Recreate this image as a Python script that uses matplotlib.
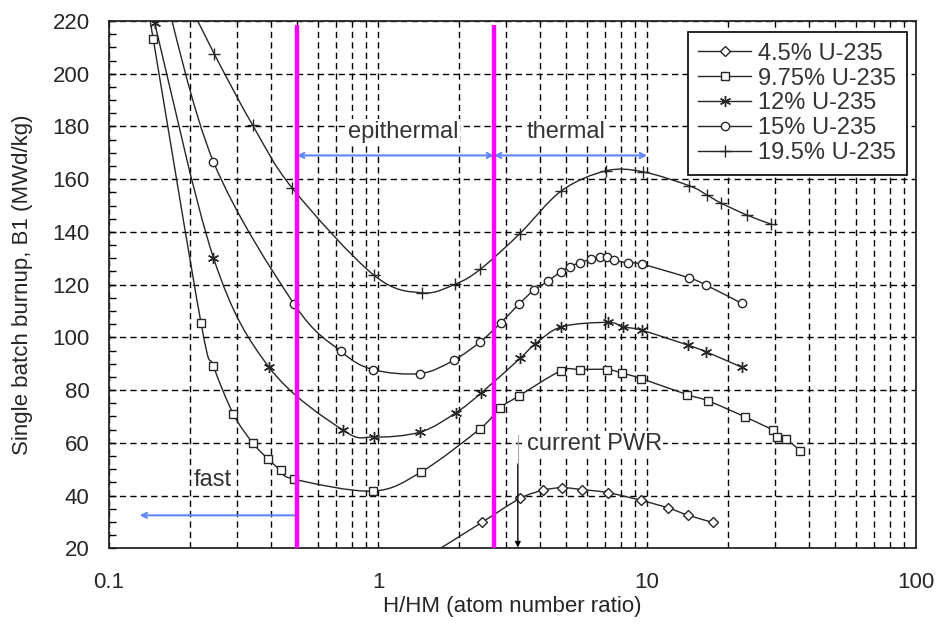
import numpy as np
import matplotlib
matplotlib.use('Agg')
import matplotlib.pyplot as plt
from matplotlib.path import Path
from matplotlib.patches import PathPatch
from matplotlib.lines import Line2D
from matplotlib.ticker import MultipleLocator, LogLocator, NullFormatter, FuncFormatter

plt.rcParams['font.family'] = ['Liberation Sans', 'DejaVu Sans']

# data (points past the frame are where the curves leave it)
x45 = [1.55, 2.43, 3.37, 4.11, 4.83, 5.71, 7.16, 9.5, 12.0, 14.25, 17.6]
y45 = [17.3, 29.8, 38.9, 42.0, 43.0, 42.3, 41.1, 38.2, 35.3, 32.5, 29.8]

x975 = [0.13, 0.146, 0.220, 0.2445, 0.290, 0.342, 0.391, 0.435, 0.488, 0.957, 1.449,
        2.398, 2.84, 3.33, 4.78, 5.62, 7.1, 8.06, 9.5, 14.1, 16.9, 23.2, 29.3, 30.5, 32.9, 37.2]
y975 = [243, 213.2, 105.3, 89.1, 70.9, 60.0, 53.8, 49.6, 46.2, 41.7, 49.0,
        65.4, 73.2, 77.7, 87.3, 87.8, 87.8, 86.5, 84.4, 78.3, 75.9, 69.8, 64.8, 62.2, 61.3, 57.0]

x12 = [0.13, 0.148, 0.2445, 0.394, 0.741, 0.965, 1.437, 1.948, 2.417, 3.37, 3.83, 4.81,
       7.16, 8.13, 9.57, 14.25, 16.6, 22.6]
y12 = [244, 219.1, 130.2, 88.6, 64.8, 62.2, 64.1, 71.4, 78.9, 92.0, 97.4, 104.0,
       105.7, 104.0, 102.7, 97.0, 94.5, 88.6]

x15 = [0.16, 0.2445, 0.488, 0.726, 0.957, 1.437, 1.909, 2.398, 2.86, 3.34, 3.80, 4.28, 4.78,
       5.16, 5.62, 6.18, 6.67, 7.08, 7.51, 8.47, 9.55, 14.3, 16.6, 22.5]
y15 = [232, 166.6, 112.6, 94.8, 87.8, 86.3, 91.3, 98.3, 105.5, 112.6, 117.9, 121.3, 124.9,
       126.8, 128.3, 129.6, 130.3, 130.5, 129.3, 128.3, 127.8, 122.6, 119.8, 112.9]

x195 = [0.196, 0.2465, 0.342, 0.481, 0.965, 1.458, 1.936, 2.398, 3.37, 4.81, 7.06, 9.65,
        14.37, 16.7, 18.8, 23.5, 28.8]
y195 = [228, 207.4, 180.5, 156.5, 123.6, 116.9, 120.2, 125.8, 139.4, 155.6, 163.2, 162.8,
        157.5, 154.0, 151.0, 146.4, 143.0]

labels = ['4.5% U-235', '9.75% U-235', '12% U-235', '15% U-235', '19.5% U-235']
xs_all = [x45, x975, x12, x15, x195]
ys_all = [y45, y975, y12, y15, y195]
markers = ['D', 's', (6, 2, 0), 'o', '+']
msizes = [5, 6, 8, 6, 9]

bounds = [0.5, 2.7]          # fast / epithermal / thermal limits
pwr_x = 3.31


def smooth_path(xs, ys):
    # excel style smoothed line: catmull-rom as bezier, worked out in log-x
    pts = np.column_stack([np.log10(xs), np.asarray(ys, float)])
    ext = np.vstack([pts[0], pts, pts[-1]])
    verts = [pts[0]]
    codes = [Path.MOVETO]
    for i in range(len(pts) - 1):
        p0, p1, p2, p3 = ext[i], ext[i + 1], ext[i + 2], ext[i + 3]
        verts += [p1 + (p2 - p0) / 6, p2 - (p3 - p1) / 6, p2]
        codes += [Path.CURVE4] * 3
    verts = np.array(verts)
    verts[:, 0] = 10 ** verts[:, 0]
    return Path(verts, codes)


fig = plt.figure(figsize=(9.4, 6.28), dpi=100)
ax = fig.add_axes([109 / 940, 1 - 548.3 / 628, 807 / 940, 527.3 / 628])
ax.set_xscale('log')
ax.set_xlim(0.1, 100)
ax.set_ylim(20, 220)

ink = '#262626'
handles = []
for xs, ys, m, ms, lab in zip(xs_all, ys_all, markers, msizes, labels):
    ax.add_patch(PathPatch(smooth_path(xs, ys), fill=False, edgecolor=ink, lw=1.0, zorder=3))
    ax.plot(xs, ys, ls='none', marker=m, ms=ms, mfc='white', mec=ink, mew=1.0, zorder=3)
    handles.append(Line2D([], [], color=ink, lw=1.0, marker=m, ms=ms, mfc='white', mec=ink, mew=1.0))

ax.vlines(bounds, 20, 218.5, colors='#ff00ff', lw=3.2, zorder=4)

blue = '#5f86ff'
arw = dict(color=blue, lw=1.5, shrinkA=0, shrinkB=0, mutation_scale=9)
ax.annotate('', xy=(bounds[0], 169), xytext=(bounds[1], 169), arrowprops=dict(arrowstyle='<->', **arw))
ax.annotate('', xy=(10, 169), xytext=(bounds[1], 169), arrowprops=dict(arrowstyle='<->', **arw))
ax.annotate('', xy=(0.13, 32.5), xytext=(bounds[0], 32.5), arrowprops=dict(arrowstyle='->', **arw))
ax.plot([pwr_x, pwr_x], [63, 52], color='#aaaaaa', lw=0.8, zorder=4)
ax.annotate('', xy=(pwr_x, 20.3), xytext=(pwr_x, 52),
            arrowprops=dict(arrowstyle='-|>', color='black', lw=1.0, shrinkA=0, shrinkB=0, mutation_scale=8))

tc = '#333333'
box = dict(facecolor='white', edgecolor='none', pad=1)
ax.text(1.24, 178, 'epithermal', fontsize=17, color=tc, ha='center', va='center', zorder=5, bbox=box)
ax.text(5.0, 178, 'thermal', fontsize=17, color=tc, ha='center', va='center', zorder=5, bbox=box)
ax.text(0.242, 45.8, 'fast', fontsize=17, color=tc, ha='center', va='center', zorder=5, bbox=box)
ax.text(3.57, 59.7, 'current PWR', fontsize=17, color=tc, ha='left', va='center', zorder=5, bbox=box)

# axes, ticks, grid
ax.xaxis.set_major_locator(LogLocator(base=10))
ax.xaxis.set_minor_locator(LogLocator(base=10, subs=np.arange(2, 10)))
ax.xaxis.set_major_formatter(FuncFormatter(lambda v, p: f'{v:g}'))
ax.xaxis.set_minor_formatter(NullFormatter())
ax.yaxis.set_major_locator(MultipleLocator(20))
ax.yaxis.set_minor_locator(MultipleLocator(5))
ax.grid(True, which='both', axis='x', color='black', lw=1.0, ls=(0, (4.5, 3)))
ax.grid(True, which='major', axis='y', color='black', lw=1.0, ls=(0, (4.5, 3)))
ax.set_axisbelow(True)
ax.tick_params(axis='x', which='both', length=0, pad=17, labelsize=16, labelcolor=ink)
ax.tick_params(axis='y', which='both', direction='in', length=5, width=1.0, pad=14,
               labelsize=16, labelcolor=ink)
for s in ax.spines.values():
    s.set_linewidth(1.3)
    s.set_color(ink)

ax.set_xlabel('H/HM (atom number ratio)', fontsize=16, color=ink)
ax.set_ylabel('Single batch burnup, B1 (MWd/kg)', fontsize=16, color=ink)
ax.xaxis.set_label_coords(0.5, -0.09)
ax.yaxis.set_label_coords(-0.094, 0.5)

leg = ax.legend(handles, labels, loc='upper right', bbox_to_anchor=(0.989, 0.979),
                borderaxespad=0, fancybox=False, edgecolor='black', framealpha=1,
                fontsize=17, handlelength=2.25, labelspacing=0.12, borderpad=0.45,
                handletextpad=0.3)
leg.get_frame().set_linewidth(1.2)
for t in leg.get_texts():
    t.set_color(tc)

fig.savefig('out.png', dpi=100)
